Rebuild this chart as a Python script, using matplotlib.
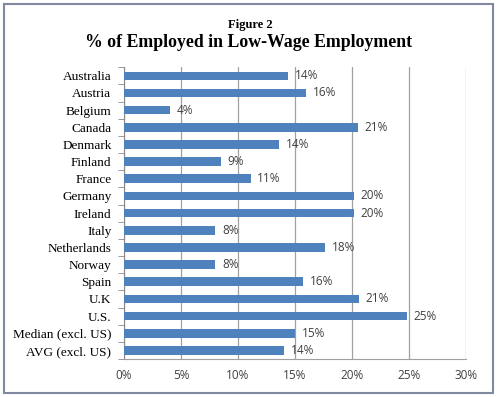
import matplotlib
matplotlib.use("Agg")
import matplotlib.pyplot as plt
from matplotlib.patches import Rectangle
from matplotlib.ticker import FuncFormatter, MultipleLocator

countries = ["Australia", "Austria", "Belgium", "Canada", "Denmark", "Finland",
             "France", "Germany", "Ireland", "Italy", "Netherlands", "Norway",
             "Spain", "U.K", "U.S.", "Median (excl. US)", "AVG (excl. US)"]
values = [14.4, 16.0, 4.0, 20.5, 13.6, 8.5, 11.1, 20.15, 20.15, 8.0, 17.6,
          8.0, 15.7, 20.6, 24.8, 15.0, 14.0]
labels = ["14%", "16%", "4%", "21%", "14%", "9%", "11%", "20%", "20%", "8%",
          "18%", "8%", "16%", "21%", "25%", "15%", "14%"]

fig = plt.figure(figsize=[5, 3.97], dpi=100, facecolor="white")
# outer frame
fig.patches.append(Rectangle((0.007, 0.01), 0.978, 0.98, transform=fig.transFigure,
                             fill=False, edgecolor="#7f8aa0", linewidth=1.5))

fig.text(0.5, 0.938, "Figure 2", ha="center", va="center", family="Liberation Serif",
         fontweight="bold", fontsize=9)
fig.text(0.497, 0.892, "% of Employed in Low-Wage Employment", ha="center", va="center",
         family="Liberation Serif", fontweight="bold", fontsize=12.8)

ax = fig.add_axes([0.248, 0.0957, 0.684, 0.735])
pos = list(range(len(countries)))
ax.barh(pos, values, height=0.5, color="#4f81bd", zorder=3)
for p, v, t in zip(pos, values, labels):
    ax.text(v + 0.6, p, t, va="center", ha="left", fontsize=8.5,
            family="Open Sans", color="#404040")

ax.set_xlim(0, 30)
ax.set_ylim(len(countries) - 0.5, -0.5)
ax.set_yticks(pos)
ax.set_yticklabels(countries, family="Liberation Serif", fontsize=9.5)
ax.set_yticks([p - 0.5 for p in pos] + [len(pos) - 0.5], minor=True)
ax.tick_params(axis="y", which="major", length=0, pad=9)
ax.tick_params(axis="y", which="minor", length=4, color="#888888", direction="out")
ax.xaxis.set_major_locator(MultipleLocator(5))
ax.xaxis.set_major_formatter(FuncFormatter(lambda x, _: "%d%%" % x))
ax.tick_params(axis="x", length=0, pad=7, labelsize=8.5, labelcolor="#404040")
for lbl in ax.get_xticklabels():
    lbl.set_family("Open Sans")
ax.grid(axis="x", color="#a0a0a0", linewidth=0.9, zorder=0)
for s in ["top", "right"]:
    ax.spines[s].set_visible(False)
ax.spines["left"].set_color("#888888")
ax.spines["bottom"].set_color("#a0a0a0")

plt.savefig("out.png", dpi=100)
